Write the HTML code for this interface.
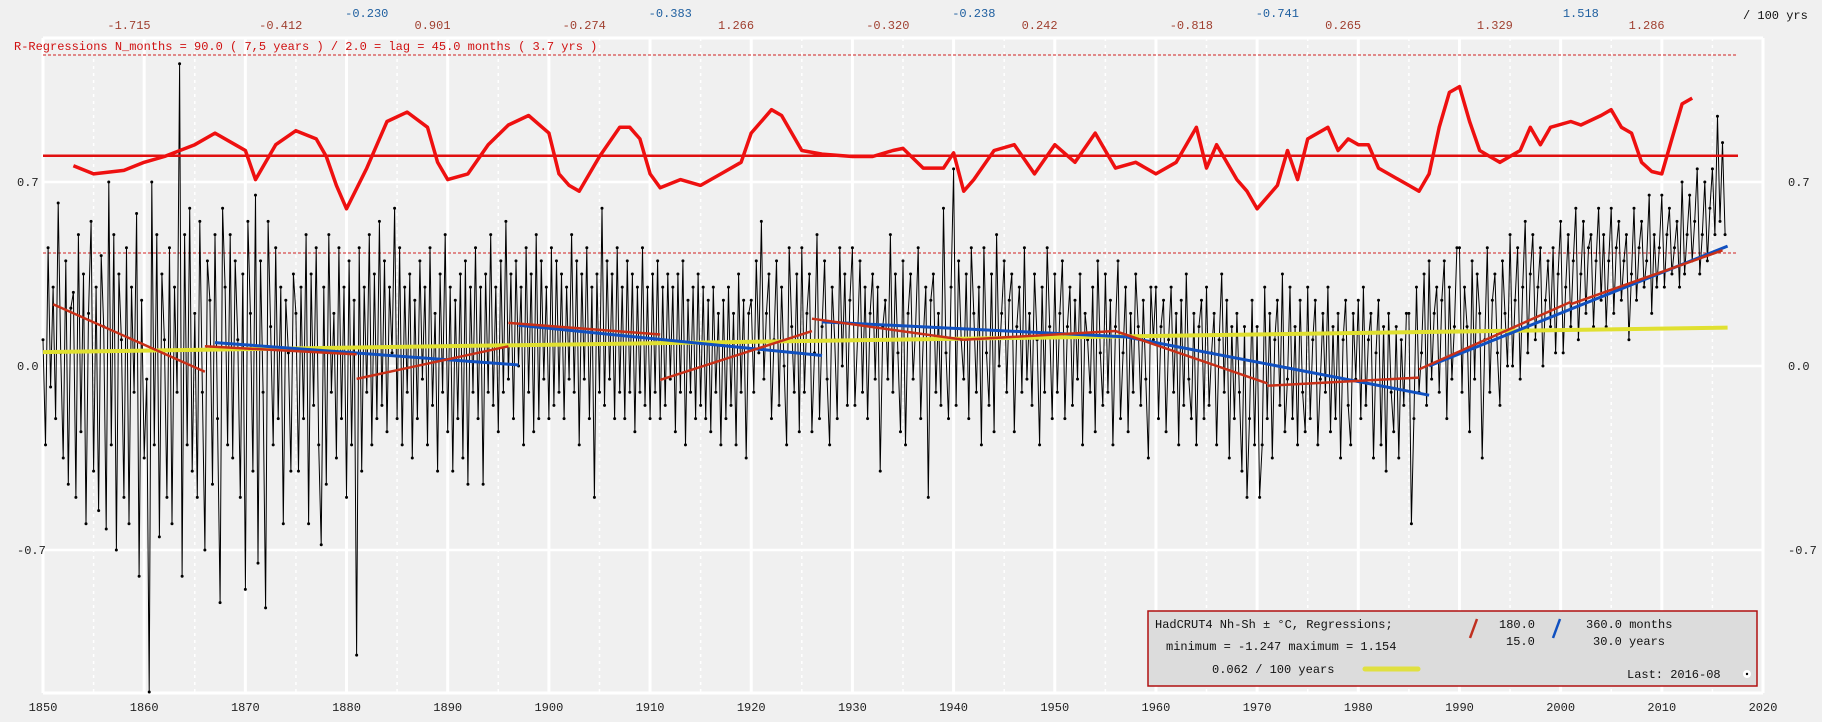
<!DOCTYPE html>
<html><head><meta charset="utf-8"><style>
body{margin:0;background:#f0f0f0;}
svg{display:block;font-family:"Liberation Mono",monospace;}
</style></head><body>
<svg id="chart" width="1822" height="722" xmlns="http://www.w3.org/2000/svg">
<rect width="1822" height="722" fill="#f0f0f0"/>
<g id="grid"></g>
<g id="series"></g>
<g id="labels"></g>
<text x="14" y="50" font-size="12" fill="#d01010">R-Regressions N_months = 90.0 ( 7,5 years ) / 2.0 = lag = 45.0 months ( 3.7 yrs )</text>
<text x="1743" y="19" font-size="12" fill="#111">/ 100 yrs</text>
<g>
<rect x="1148" y="611" width="609" height="75" fill="#dcdcdc" stroke="#b01010" stroke-width="1.5"/>
<text x="1155" y="628" font-size="12" fill="#111">HadCRUT4 Nh-Sh  ± °C,     Regressions;</text>
<line x1="1470" y1="638" x2="1477" y2="619" stroke="#c03020" stroke-width="2.5"/>
<text x="1499" y="628" font-size="12" fill="#111">180.0</text>
<text x="1506" y="645" font-size="12" fill="#111">15.0</text>
<line x1="1553" y1="638" x2="1560" y2="619" stroke="#1050c0" stroke-width="2.5"/>
<text x="1586" y="628" font-size="12" fill="#111">360.0 months</text>
<text x="1593" y="645" font-size="12" fill="#111">30.0 years</text>
<text x="1166" y="650" font-size="12" fill="#111">minimum = -1.247 maximum = 1.154</text>
<text x="1212" y="673" font-size="12" fill="#111">0.062 / 100 years</text>
<line x1="1365" y1="669" x2="1418" y2="669" stroke="#e0e040" stroke-width="5" stroke-linecap="round"/>
<text x="1627" y="678" font-size="12" fill="#111">Last: 2016-08</text>
<circle cx="1747" cy="674" r="4" fill="#fff"/>
<circle cx="1747" cy="674" r="1.2" fill="#000"/>
</g>
</svg>
<script>
const xTicks=[1850,1860,1870,1880,1890,1900,1910,1920,1930,1940,1950,1960,1970,1980,1990,2000,2010,2020];
const yTicks=[0.7,0.0,-0.7];
const redTopLabels=["-1.715","-0.412","0.901","-0.274","1.266","-0.320","0.242","-0.818","0.265","1.329","1.286"];
const blueTopLabels=["-0.230","-0.383","-0.238","-0.741","1.518"];
const anomalyStart=1850;
const anomalyStep=0.25;
// quarterly anomalies, hundredths of °C (one line = 5 years)
const anomalyHundredths=[
10,-30,45,-8,30,-20,62,5,-35,40,-45,22,28,-50,50,-25,35,-60,20,55,
-40,30,-55,42,15,-62,70,-30,50,-70,35,10,-50,45,-60,30,-10,58,-80,25,
-35,-5,-124,70,-30,50,-65,35,10,-50,45,-60,30,-10,115,-80,50,-30,60,-40,
20,-50,55,-10,-70,40,25,-45,50,-20,-90,60,30,-30,50,-35,40,10,-50,35,
-85,55,20,-40,65,-75,40,-10,-92,55,15,-30,45,-20,30,-60,25,5,-40,35,
20,-40,30,-20,50,-60,35,-15,45,-30,-68,30,-45,50,-10,20,-35,45,-20,30,
-50,40,-30,25,-110,45,-40,30,-10,50,-30,35,-20,55,-15,40,-25,30,5,60,
-20,45,-30,30,-10,35,-35,25,-20,40,-5,30,-30,45,-15,20,-40,35,-10,50,
-25,30,-40,25,-20,35,-35,40,-45,30,-10,45,-20,30,-45,35,-10,50,-15,30,
-25,40,-10,55,-5,35,-20,40,0,30,-30,45,-10,35,-25,50,-20,40,-5,30,
-20,45,-15,40,-10,35,-20,30,-5,50,-10,40,-30,35,-5,45,-20,30,-50,35,
-10,60,-15,40,-5,35,-20,45,-10,30,-20,40,-10,35,-25,30,-10,45,-15,30,
-20,35,-10,40,-20,30,-15,35,-5,30,-25,35,-10,40,-30,25,-10,30,-20,35,
-15,30,-20,25,-25,30,-10,20,-30,25,-20,30,-15,20,-30,35,-10,25,-35,20,
25,-10,40,5,55,-5,20,35,-20,10,40,-15,30,0,-30,45,15,-10,35,-25,
45,-10,20,35,-25,5,50,-20,15,40,-5,-30,30,10,-20,45,0,35,-15,25,
45,-15,10,40,-10,30,-20,20,35,-5,30,-40,15,25,-5,50,-10,35,5,-25,
40,-30,20,35,-5,15,45,-20,10,30,-50,25,35,-10,20,-15,60,5,-20,30,
75,-15,40,10,-5,35,-20,45,20,-10,30,-30,45,5,-15,35,-25,50,0,20,
40,-10,25,35,-25,15,30,-10,45,-5,20,-15,35,10,-30,30,-10,45,15,-20,
35,-10,20,40,-20,15,30,-15,25,-5,35,-30,20,10,-10,30,-25,40,5,-15,
35,-10,25,-30,15,40,-20,5,30,-25,20,-10,35,15,-15,25,-5,-35,30,10,
30,-20,15,25,-25,10,30,-10,20,-30,25,-15,35,-5,-20,20,-30,15,25,-20,
30,-15,5,20,-30,10,35,-10,25,-35,15,-20,20,-10,-40,15,-50,-20,25,-30,
15,-50,-30,30,-20,20,-35,10,25,-15,35,-25,-5,30,-20,15,-30,25,-10,-25,
30,-20,10,25,-30,-5,20,-10,30,-25,15,-20,20,-35,10,25,-15,-30,20,-5,
25,-20,30,-15,10,20,-35,5,25,-30,15,-40,20,-10,-25,15,-35,10,-15,20,
20,-60,-20,30,-10,5,35,-15,40,-5,20,30,-10,25,40,-20,30,-5,15,45,
45,-10,30,15,-25,40,-5,35,20,-35,10,45,-10,25,35,5,-15,40,20,0,
50,0,25,45,-5,30,55,5,35,50,10,30,45,0,25,40,15,45,5,35,
55,5,30,50,15,40,60,10,35,55,20,45,50,15,40,60,25,50,15,40,
60,20,45,55,25,40,50,10,35,60,25,45,55,30,40,65,20,50,30,45,
65,30,50,60,35,45,55,30,70,35,50,65,40,55,75,35,50,70,40,60,
75,50,95,55,85,50];
const rYears=[1853,1855,1858,1860,1862,1865,1867,1869,1870,1871,1873,1875,1877,1878,1879,1880,1882,1884,1886,1888,1889,1890,1892,1894,1896,1898,1900,1901,1902,1903,1905,1907,1908,1909,1910,1911,1913,1915,1917,1919,1920,1922,1923,1925,1927,1930,1932,1934,1935,1937,1939,1940,1941,1942,1944,1946,1948,1950,1952,1954,1956,1958,1960,1962,1964,1965,1966,1968,1969,1970,1972,1973,1974,1975,1977,1978,1979,1980,1981,1982,1983,1985,1986,1987,1988,1989,1990,1991,1992,1993,1994,1996,1997,1998,1999,2001,2002,2004,2005,2006,2007,2008,2009,2010,2011,2012,2013];
const rValues=[.762,.731,.744,.775,.797,.842,.886,.842,.820,.709,.842,.895,.864,.797,.687,.598,.753,.930,.966,.908,.775,.709,.731,.842,.917,.953,.886,.731,.687,.665,.797,.908,.908,.864,.731,.678,.709,.687,.731,.775,.886,.975,.953,.820,.806,.797,.797,.820,.828,.753,.753,.811,.665,.709,.820,.842,.731,.842,.775,.886,.753,.775,.731,.775,.908,.753,.842,.709,.665,.598,.687,.820,.709,.864,.908,.820,.864,.842,.842,.753,.731,.687,.665,.731,.908,1.041,1.063,.930,.820,.797,.775,.820,.908,.842,.908,.930,.917,.953,.975,.908,.886,.775,.740,.731,.864,.997,1.019];
const rLevel=0.80, rLower=0.43;
const seg15Years=[[1851,1866],[1866,1881],[1881,1896],[1896,1911],[1911,1926],[1926,1941],[1941,1956],[1956,1971],[1971,1986],[1986,2001],[2001,2016]];
const seg15Values=[[.235,-.022],[.075,.044],[-.049,.075],[.164,.12],[-.053,.133],[.18,.10],[.10,.133],[.133,-.066],[-.075,-.044],[-.013,.244],[.235,.44]];
const seg30Years=[[1867,1897],[1897,1927],[1927,1957],[1957,1987],[1987,2016.5]];
const seg30Values=[[.089,.004],[.155,.040],[.168,.111],[.111,-.111],[0,.456]];
const trendYears=[1850,2016.5];
const trendValues=[.053,.146];

const NS="http://www.w3.org/2000/svg";
const X=y=>43+(y-1850)*(1763-43)/170;
const Y=v=>366-v*(184/0.7);
function mk(parent,tag,attrs){const e=document.createElementNS(NS,tag);for(const k in attrs)e.setAttribute(k,attrs[k]);document.getElementById(parent).appendChild(e);return e;}

for(let yr=1850;yr<=2020;yr+=5){
  const major=yr%10===0;
  const l=mk('grid','line',{x1:X(yr),x2:X(yr),y1:38,y2:693,stroke:'#fff','stroke-width':major?3:1.5,'stroke-dasharray':major?'':'3,4'});
  
  
}
[[38,'frame-top'],[693,'x-axis-line']].forEach(g=>{const l=mk('grid','line',{x1:43,x2:1763,y1:g[0],y2:g[0],stroke:'#fff','stroke-width':3});
  
  });
yTicks.forEach(v=>{const l=mk('grid','line',{x1:43,x2:1763,y1:Y(v),y2:Y(v),stroke:'#fff','stroke-width':2.5});
  
  });
let e=mk('grid','line',{x1:43,x2:1738,y1:55,y2:55,stroke:'#d02020','stroke-width':1,'stroke-dasharray':'3,2'});


e=mk('grid','line',{x1:43,x2:1738,y1:Y(rLower),y2:Y(rLower),stroke:'#d02020','stroke-width':1,'stroke-dasharray':'3,2'});



let d='';anomalyHundredths.forEach((v,i)=>{d+=(i?'L':'M')+X(anomalyStart+i*anomalyStep).toFixed(1)+','+Y(v/100).toFixed(1);});
e=mk('series','path',{d:d,fill:'none',stroke:'#000','stroke-width':1});


anomalyHundredths.forEach((v,i)=>{const c=mk('series','circle',{cx:X(anomalyStart+i*anomalyStep),cy:Y(v/100),r:1.5,fill:'#000'});
  
  });

e=mk('series','line',{x1:43,x2:1738,y1:Y(rLevel),y2:Y(rLevel),stroke:'#e01010','stroke-width':2.5});


d='';rYears.forEach((yr,i)=>{d+=(i?'L':'M')+X(yr).toFixed(1)+','+Y(rValues[i]).toFixed(1);});
e=mk('series','path',{d:d,fill:'none',stroke:'#ee1010','stroke-width':3.5,'stroke-linejoin':'round'});



e=mk('series','line',{x1:X(trendYears[0]),x2:X(trendYears[1]),y1:Y(trendValues[0]),y2:Y(trendValues[1]),stroke:'#e0e030','stroke-width':4});


seg30Years.forEach((s,i)=>{const l=mk('series','line',{x1:X(s[0]),x2:X(s[1]),y1:Y(seg30Values[i][0]),y2:Y(seg30Values[i][1]),stroke:'#1050c0','stroke-width':3});
  
  });
seg15Years.forEach((s,i)=>{const l=mk('series','line',{x1:X(s[0]),x2:X(s[1]),y1:Y(seg15Values[i][0]),y2:Y(seg15Values[i][1]),stroke:'#c83018','stroke-width':2.5});
  
  });

xTicks.forEach(yr=>{const t=mk('labels','text',{x:X(yr),y:711,'font-size':12,'text-anchor':'middle',fill:'#222'});t.textContent=yr;
  
  });
yTicks.forEach(v=>{[17,1788].forEach(px=>{const t=mk('labels','text',{x:px,y:Y(v)+4,'font-size':12,fill:'#222'});t.textContent=v.toFixed(1);
  
  });});
redTopLabels.forEach((s,i)=>{const t=mk('labels','text',{x:X(1858.5+i*15),y:29,'font-size':12,'text-anchor':'middle',fill:'#a04030'});t.textContent=s;
  
  });
blueTopLabels.forEach((s,i)=>{const t=mk('labels','text',{x:X(1882+i*30),y:17,'font-size':12,'text-anchor':'middle',fill:'#2060a0'});t.textContent=s;
  
  });
</script>
</body></html>
